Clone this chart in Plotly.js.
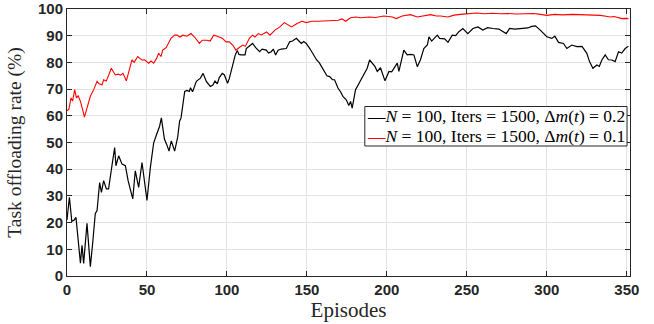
<!DOCTYPE html>
<html>
<head>
<meta charset="utf-8">
<script src="https://cdn.plot.ly/plotly-3.0.1.min.js"></script>
<style>html,body{margin:0;padding:0;background:#fff;}#chart{width:654px;height:324px;}</style>
</head>
<body>
<div id="chart"></div>
<script>
// Series 1: N = 100, Iters = 1500, Δm(t) = 0.2 (black)
var blackEpisodes = [0,1.5,3,4.5,5.6,6.8,8.4,9.4,10.4,12.5,14.6,16,17.7,18.8,20.4,21.5,22.9,24.6,26,28.1,29.8,30.6,32.3,34.4,36.5,38.2,41.1,42.7,44.8,46.9,50,52.1,54.2,56,57.9,59,60.9,62.5,63.8,65.2,67.3,69.2,70.4,71.3,73.6,75,76.5,77.2,78.5,80.9,83.4,85.1,87.1,89.6,91.2,92.5,94,95.2,97.1,98.4,100.4,101.5,103.6,105.2,106.5,107.5,109,111.3,112.1,115,116,118,120.4,122,124.6,126,127.7,129,130.4,132,134,137.1,139.2,141,143.4,145,146.5,148,149.6,152,154.8,156,157.9,159.5,161,162.5,164.2,166,167.3,169.4,171,172.5,174.6,176.2,177.3,178.3,180.4,182,183.6,185.5,187.7,189.2,190.8,192.5,194,196,198.8,201.3,203,206.5,207.5,210.6,212.7,215,216.9,219,221,223.1,225.3,226.3,228,229.4,231.5,233,236.1,238.2,240.9,243,245,247.5,250.6,253.8,256.9,260,263,266.2,270,274.6,276.7,280,285,288.1,290.5,292.9,295.9,298,300,303.1,305,307.3,310.4,312.5,315.6,318.8,322,325,326.7,328.8,331.3,332.8,334.4,336.5,338.5,340.6,342.7,344.8,346.8,349,351];
var blackRates = [21,29.5,20.5,21,22,14,4.8,11.5,4.7,19.7,3.5,12,23.4,24.5,35,31.3,35.7,32.6,32.6,41.3,48.1,41.3,45,41.9,41.3,35.7,28.9,39.4,33.2,42.5,28.3,40.6,49.9,53,56.1,59.2,51.3,49,46.8,50.6,46.8,52,58,59.2,69.1,69.5,69.1,70.5,69,72.9,74.1,75.9,72.9,71,71.5,73,72,74.3,75.9,75.3,72.2,74,79,82.8,84.5,83,82.8,82.8,85.2,86.7,87.1,85.5,84,85,84.6,83.5,84,85,82.8,84.6,85,85.2,87.7,88,89,88,87.1,87.8,87.1,85,82.2,81,79.7,78,76.6,75,74.7,73.5,73.5,70.4,69,67.3,66,63.9,65.4,62.9,69.8,71.5,73.5,75,77.8,80.9,79.7,78.5,76.6,78,73.1,76.6,76.5,79.7,76.6,84.6,82.8,83,82.8,78.4,81,85.2,86.5,89.6,88,89,90.2,89,88.8,87.5,90.2,90,91.5,92.7,90.8,92.7,93.3,92.1,93,92.7,92.5,90.8,92.7,92.5,92.7,92.9,93.5,93.7,92.1,91,89.6,89,89.8,87.5,87.1,85.2,86.5,85.9,86,83.4,80.3,77.8,79,78.5,80.9,82.8,81,80.9,80.3,84,83.5,85.2,86.1];

// Series 2: N = 100, Iters = 1500, Δm(t) = 0.1 (red)
var redEpisodes = [0,1.2,2.5,3.5,4.8,5.9,7,8.4,9.5,10.9,12.5,14.6,16.7,18.8,20,21.9,22.9,24.5,26.1,27.7,29,30.2,32,33.5,35,37.1,39.2,40.6,42,44.2,45.5,46.9,48.5,51.1,52.5,54.2,56,57.3,58.8,59.8,62,65,67.3,68.8,70.5,72.5,75,77.5,79.6,82.8,84.6,87.5,89.5,91.7,94,97.3,99.4,101.5,103.6,105.6,107.5,109.8,111.5,114,116,117.5,119.6,121.5,124.8,126.9,130,133.1,135.9,138,140.4,143.6,146.7,149.8,153,157.1,161,165.4,169.6,172,174.2,177.3,180.5,183.6,188.8,193,198.1,203.4,205.9,209.6,214.8,219,223,227.3,231,233.6,238.2,242,246,251.7,256,261,266,271,276,281,286,291.7,296,300,305,310,316,322.9,328,333.4,337,339.6,342,344.5,346.9,349,351];
var redRates = [62,62.5,66.7,65.5,69.8,66.7,67.5,65.4,63,59.5,62.9,67.3,69.8,72.9,72,71.6,73.5,73,75.3,77.8,76.5,75.3,75.6,75.2,75.9,73.1,77.8,80.9,80,82.2,81.5,80.9,81,79.7,80.5,79.7,81.5,83.4,82.2,84.6,85.5,89,90.2,90.2,89.5,90.2,89.8,90.8,89.6,87.1,88.3,88.3,88,90.2,89.8,89,87.7,87.7,86.5,84.6,85.5,86.5,86,89,90.2,89.5,90.8,90.3,91.4,90.2,92.1,93.3,94.9,94.2,93.3,94.5,95.4,94.9,95.4,95.4,95.6,95.8,95.8,96.3,95.4,96.7,97,96.7,97,96.8,97.4,97,96.4,97.4,97.9,97,97.5,97.9,97.4,97.4,97,97.7,98,98.3,98.5,98.2,98.4,98.2,98.3,98.1,98.3,98.3,98,97.6,98,97.8,98,97.9,97.7,97.6,97.3,97,97.2,96.8,96.4,96.5,96.4];

var seriesNames = [
  '<i>N</i> = 100, Iters = 1500, Δ<i>m</i>(<i>t</i>) = 0.2',
  '<i>N</i> = 100, Iters = 1500, Δ<i>m</i>(<i>t</i>) = 0.1'
];
var seriesColors = ['#000000', '#ff0000'];
var xTickVals = [0,50,100,150,200,250,300,350];
var yTickVals = [0,10,20,30,40,50,60,70,80,90,100];

var traces = [
  {x: blackEpisodes, y: blackRates, name: seriesNames[0], type: 'scatter', mode: 'lines',
   line: {color: seriesColors[0], width: 1.2}, showlegend: false},
  {x: redEpisodes, y: redRates, name: seriesNames[1], type: 'scatter', mode: 'lines',
   line: {color: seriesColors[1], width: 1.1}, showlegend: false}
];

var tickFont = {family: 'Liberation Sans, Arial, sans-serif', size: 15, color: '#262626', weight: 'bold'};
var serif = 'Liberation Serif, DejaVu Serif, serif';

// legend drawn as a boxed key (MATLAB-style compact legend)
var legendBox = {x0: 0.529, x1: 0.9947, y0: 0.4869, y1: 0.6348};
var legendRowsY = [0.5974, 0.5243];
var annotations = seriesNames.map(function (nm, i) {
  return {
    xref: 'paper', yref: 'paper', x: 0.531, y: legendRowsY[i],
    xanchor: 'left', yanchor: 'middle', showarrow: false, borderpad: 0,
    text: '<span style="color:' + seriesColors[i] + '">—</span>' + nm,
    font: {family: serif, size: 17.5, color: '#000000'}
  };
});

var layout = {
  width: 654, height: 324,
  margin: {l: 67, r: 24, t: 9, b: 48},
  paper_bgcolor: '#ffffff', plot_bgcolor: '#ffffff',
  showlegend: false,
  xaxis: {
    range: [0, 352], tickvals: xTickVals, ticktext: xTickVals.map(String),
    ticks: 'inside', ticklen: 5, tickcolor: '#262626', mirror: 'ticks',
    showline: true, linecolor: '#262626', linewidth: 1,
    showgrid: true, gridcolor: '#e3e3e3', gridwidth: 1, zeroline: false,
    tickfont: tickFont, ticklabeloverflow: 'allow',
    title: {text: 'Episodes', font: {family: serif, size: 21, color: '#262626'}, standoff: 0}
  },
  yaxis: {
    range: [0, 100], tickvals: yTickVals, ticktext: yTickVals.map(String),
    ticks: 'inside', ticklen: 5, tickcolor: '#262626', mirror: 'ticks',
    showline: true, linecolor: '#262626', linewidth: 1,
    showgrid: true, gridcolor: '#e3e3e3', gridwidth: 1, zeroline: false,
    tickfont: tickFont, ticklabeloverflow: 'allow',
    title: {text: 'Task offloading rate (%)', font: {family: serif, size: 19.5, color: '#262626'}, standoff: 11}
  },
  shapes: [{
    type: 'rect', xref: 'paper', yref: 'paper', layer: 'above',
    x0: legendBox.x0, x1: legendBox.x1, y0: legendBox.y0, y1: legendBox.y1,
    line: {color: '#262626', width: 1}, fillcolor: '#ffffff'
  }],
  annotations: annotations
};

Plotly.newPlot('chart', traces, layout, {staticPlot: true, displayModeBar: false});
</script>
</body>
</html>
